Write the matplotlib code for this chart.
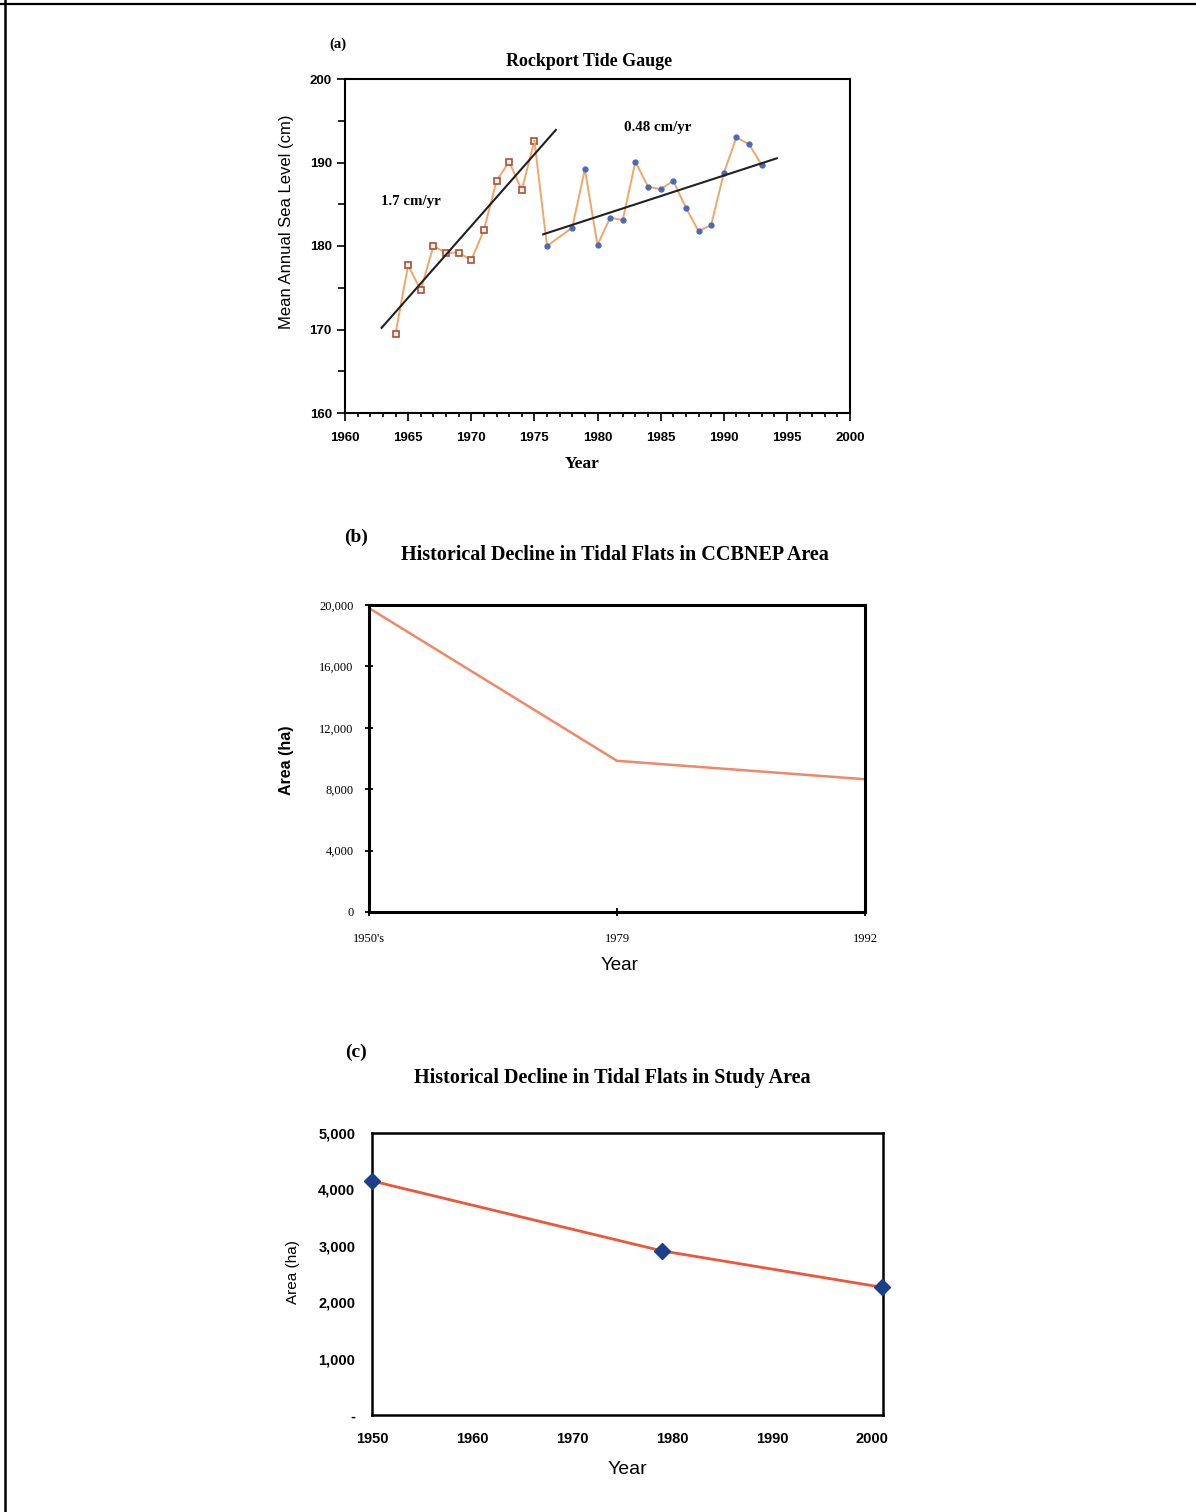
import matplotlib
matplotlib.use("Agg")
import matplotlib.pyplot as plt
from matplotlib.lines import Line2D
from matplotlib.ticker import MultipleLocator, FuncFormatter

# (a) Rockport tide gauge
early_years = [1964, 1965, 1966, 1967, 1968, 1969, 1970, 1971, 1972, 1973, 1974, 1975]
early_level = [169.5, 177.7, 174.7, 180.0, 179.2, 179.2, 178.3, 181.9, 187.8, 190.1, 186.7, 192.6]
late_years = [1976, 1978, 1979, 1980, 1981, 1982, 1983, 1984, 1985, 1986, 1987, 1988,
              1989, 1990, 1991, 1992, 1993]
late_level = [180.0, 182.2, 189.2, 180.1, 183.4, 183.1, 190.1, 187.1, 186.8, 187.8, 184.6,
              181.8, 182.5, 188.7, 193.0, 192.2, 189.7]
trend1_years = [1962.9, 1976.7]
trend1_level = [170.2, 193.9]
trend2_years = [1975.7, 1994.2]
trend2_level = [181.4, 190.5]

# (b) CCBNEP area
ccbnep_labels = ["1950's", "1979", "1992"]
ccbnep_area = [19800, 9850, 8650]

# (c) study area
study_years = [1950, 1979, 2001]
study_area = [4150, 2910, 2265]

SERIF = "Liberation Serif"
SANS = "Liberation Sans"
W, H = 1196, 1512


def px(x, y):
    return x / W, 1 - y / H


def box(l, t, r, b):
    return [l / W, 1 - b / H, (r - l) / W, (b - t) / H]


fig = plt.figure(figsize=(W / 100, H / 100), dpi=100)

# page border of the scan
fig.add_artist(Line2D([0, 1], [1 - 4 / H] * 2, color="black", lw=1.6, transform=fig.transFigure))
fig.add_artist(Line2D([5 / W] * 2, [0, 1], color="black", lw=1.8, transform=fig.transFigure))

comma = FuncFormatter(lambda v, p: f"{int(v):,}")

# ---------- (a)
ax1 = fig.add_axes(box(345, 79, 850, 413))
ax1.plot(early_years, early_level, color="#f2a56a", lw=1.4, marker="s", ms=5,
         mfc="#f8efe6", mec="#a8503a", mew=1.2, zorder=2)
ax1.plot([early_years[-1], late_years[0]], [early_level[-1], late_level[0]],
         color="#f2a56a", lw=1.4, zorder=2)
ax1.plot(late_years, late_level, color="#f2a56a", lw=1.4, marker="o", ms=3.5,
         mfc="#4a6ab8", mec="#4a6ab8", zorder=2)
ax1.plot(trend1_years, trend1_level, color="#202020", lw=1.5, zorder=3)
ax1.plot(trend2_years, trend2_level, color="#202020", lw=1.5, zorder=3)
ax1.set_xlim(1960, 2000)
ax1.set_ylim(160, 200)
ax1.xaxis.set_major_locator(MultipleLocator(5))
ax1.xaxis.set_minor_locator(MultipleLocator(1))
ax1.yaxis.set_major_locator(MultipleLocator(10))
ax1.yaxis.set_minor_locator(MultipleLocator(5))
ax1.tick_params(which="both", direction="out", width=1.2)
ax1.tick_params(which="major", length=6)
ax1.tick_params(which="minor", length=3)
ax1.tick_params(axis="y", which="minor", length=5)
ax1.tick_params(axis="x", pad=8)
for lab in ax1.get_xticklabels() + ax1.get_yticklabels():
    lab.set_fontfamily(SANS)
    lab.set_fontweight("bold")
    lab.set_fontsize(9.5)
for s in ax1.spines.values():
    s.set_linewidth(1.5)
fig.text(*px(338, 44), "(a)", family=SERIF, weight="bold", fontsize=10.5, ha="center", va="center")
fig.text(*px(589, 62), "Rockport Tide Gauge", family=SERIF, weight="bold", fontsize=13,
         ha="center", va="center")
fig.text(*px(287, 222), "Mean Annual Sea Level (cm)", family=SANS, fontsize=12,
         rotation=90, ha="center", va="center")
fig.text(*px(582, 464), "Year", family=SERIF, weight="bold", fontsize=12.5, ha="center", va="center")
fig.text(*px(411, 202), "1.7 cm/yr", family=SERIF, weight="bold", fontsize=10.8, ha="center", va="center")
fig.text(*px(658, 128), "0.48 cm/yr", family=SERIF, weight="bold", fontsize=10.8, ha="center", va="center")

# ---------- (b)
ax2 = fig.add_axes(box(369, 605, 865, 912))
pos = range(len(ccbnep_labels))
ax2.plot(pos, ccbnep_area, color="#f08868", lw=1.8)
ax2.set_xlim(0, 2)
ax2.set_ylim(0, 20000)
ax2.set_xticks(list(pos))
ax2.set_xticklabels(ccbnep_labels)
ax2.set_yticks(range(0, 20001, 4000))
ax2.yaxis.set_major_formatter(comma)
ax2.tick_params(direction="inout", length=6, width=1.3)
ax2.tick_params(axis="x", pad=12)
ax2.tick_params(axis="y", pad=8)
for lab in ax2.get_xticklabels() + ax2.get_yticklabels():
    lab.set_fontfamily(SERIF)
    lab.set_fontsize(9)
for s in ax2.spines.values():
    s.set_linewidth(2.2)
fig.text(*px(356, 537), "(b)", family=SERIF, weight="bold", fontsize=14, ha="center", va="center")
fig.text(*px(615, 555), "Historical Decline in Tidal Flats in CCBNEP Area", family=SERIF,
         weight="bold", fontsize=14.5, ha="center", va="center")
fig.text(*px(287, 760), "Area (ha)", family=SANS, weight="bold", fontsize=11.5,
         rotation=90, ha="center", va="center")
fig.text(*px(620, 966), "Year", family=SANS, fontsize=13.5, ha="center", va="center")

# ---------- (c)
ax3 = fig.add_axes(box(372, 1133, 883, 1415))
ax3.plot(study_years, study_area, color="#f05538", lw=2, marker="D", ms=8,
         mfc="#1c3f8c", mec="#1c3f8c", clip_on=False, zorder=3)
ax3.set_xlim(1950, 2001.1)
ax3.set_ylim(0, 5000)
ax3.set_xticks(range(1950, 2001, 10))
ax3.set_yticks(range(0, 5001, 1000))
ax3.yaxis.set_major_formatter(FuncFormatter(lambda v, p: "-" if v == 0 else f"{int(v):,}"))
ax3.tick_params(length=0, pad=12)
for lab in ax3.get_xticklabels() + ax3.get_yticklabels():
    lab.set_fontfamily(SANS)
    lab.set_fontweight("bold")
    lab.set_fontsize(10.5)
for s in ax3.spines.values():
    s.set_linewidth(1.8)
fig.text(*px(356, 1052), "(c)", family=SERIF, weight="bold", fontsize=14, ha="center", va="center")
fig.text(*px(612, 1078), "Historical Decline in Tidal Flats in Study Area", family=SERIF,
         weight="bold", fontsize=14.5, ha="center", va="center")
fig.text(*px(293, 1272), "Area (ha)", family=SANS, fontsize=11, rotation=90,
         ha="center", va="center")
fig.text(*px(627, 1470), "Year", family=SANS, fontsize=14, ha="center", va="center")

fig.savefig("out.png", dpi=100)
